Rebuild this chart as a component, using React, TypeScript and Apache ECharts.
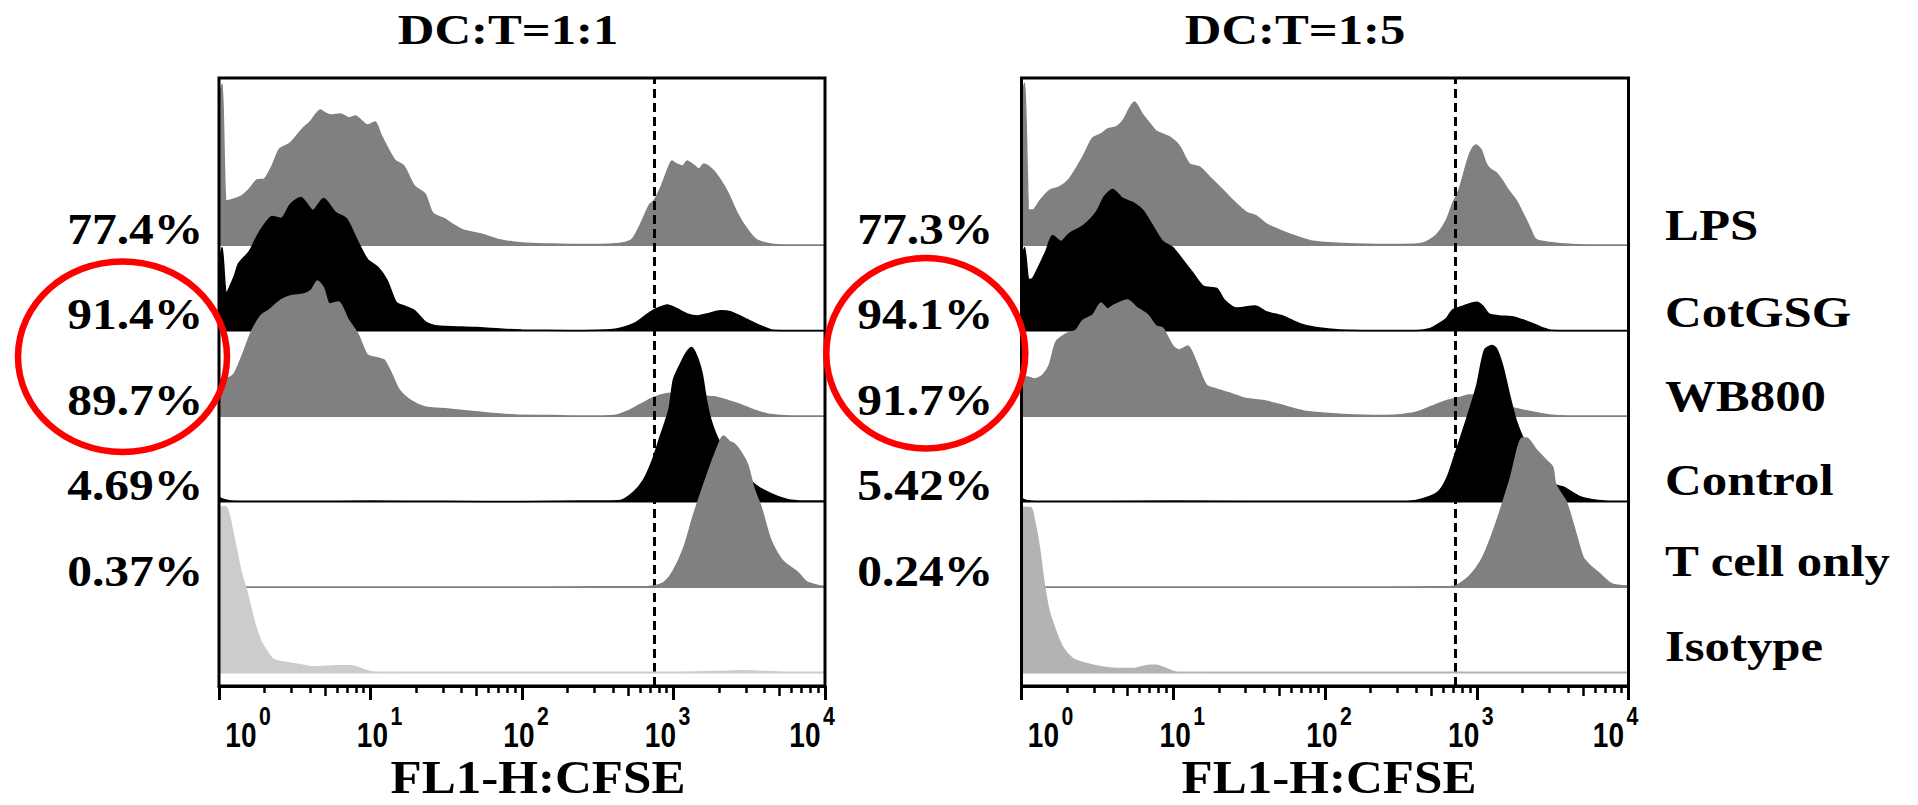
import React, { useEffect, useRef } from 'react';
import * as echarts from 'echarts';

type Pt = [number, number]; // [log10(FL1-H), histogram height]

const SAMPLES = ['LPS', 'CotGSG', 'WB800', 'Control', 'T cell only', 'Isotype'];
const PANEL_TITLES = ['DC:T=1:1', 'DC:T=1:5'];
const PCT_11 = ['77.4%', '91.4%', '89.7%', '4.69%', '0.37%'];
const PCT_15 = ['77.3%', '94.1%', '91.7%', '5.42%', '0.24%'];
const GATES = [743, 717];
const MAJOR_TICKS = [1, 10, 100, 1000, 10000];
const TICK_EXPONENTS = ['0', '1', '2', '3', '4'];
const HALF_TICKS = [5, 50, 500, 5000];
const MINOR_TICKS = [2, 3, 4, 6, 7, 8, 9, 20, 30, 40, 60, 70, 80, 90, 200, 300, 400, 600, 700, 800, 900,
  2000, 3000, 4000, 6000, 7000, 8000, 9000];
const X_NAME = 'FL1-H:CFSE';

// ---- DC:T=1:1 ----
const L_LPS: Pt[] = [[0, 150], [0.02, 162], [0.05, 45], [0.1, 47], [0.15, 50], [0.2, 57], [0.25, 66], [0.3, 67], [0.35, 80], [0.4, 97], [0.47, 103], [0.55, 117], [0.6, 124], [0.67, 136], [0.7, 133], [0.74, 131], [0.8, 132], [0.86, 128], [0.9, 130], [0.98, 121], [1.03, 124], [1.07, 111], [1.16, 86], [1.22, 80], [1.29, 60], [1.36, 52], [1.41, 33], [1.49, 27], [1.55, 21], [1.61, 16], [1.73, 12], [1.86, 6], [2.0, 3], [2.2, 2], [2.4, 1.5], [2.6, 2], [2.72, 6], [2.78, 21], [2.84, 41], [2.87, 45], [2.92, 60], [2.96, 76], [2.99, 85], [3.02, 82], [3.06, 80], [3.09, 85], [3.14, 80], [3.17, 77], [3.2, 82], [3.26, 76], [3.31, 66], [3.36, 53], [3.42, 33], [3.49, 16], [3.55, 6], [3.64, 2], [3.75, 1], [4.0, 1]];
const L_COT: Pt[] = [[0, 70], [0.02, 84], [0.05, 39], [0.1, 55], [0.13, 68], [0.2, 80], [0.25, 95], [0.3, 107], [0.35, 115], [0.41, 113], [0.47, 127], [0.54, 134], [0.62, 121], [0.69, 133], [0.77, 119], [0.84, 113], [0.91, 92], [0.98, 72], [1.05, 64], [1.11, 51], [1.17, 29], [1.23, 25], [1.29, 21], [1.36, 10], [1.42, 6], [1.5, 5], [1.6, 4.5], [1.7, 4], [1.8, 3], [1.9, 2], [2.0, 1.5], [2.3, 1], [2.6, 2], [2.74, 8], [2.83, 17.6], [2.89, 23], [2.96, 26.6], [3.02, 23], [3.09, 17.6], [3.16, 15.6], [3.22, 17.6], [3.31, 20.7], [3.38, 19.5], [3.49, 11.7], [3.57, 6], [3.66, 1.2], [3.8, 1], [4.0, 1]];
const L_WB: Pt[] = [[0, 35], [0.03, 39], [0.055, 39], [0.1, 43], [0.165, 66], [0.21, 84], [0.275, 101], [0.33, 107], [0.41, 117], [0.47, 121], [0.56, 123], [0.61, 127], [0.65, 136], [0.69, 129], [0.73, 113], [0.79, 115], [0.85, 98], [0.92, 82], [0.98, 62], [1.05, 59], [1.09, 57], [1.14, 43], [1.19, 27], [1.27, 16], [1.36, 10], [1.51, 8], [1.73, 4.7], [1.95, 2], [2.2, 1.5], [2.4, 1], [2.61, 1.5], [2.7, 6], [2.78, 12.5], [2.87, 19.5], [2.96, 23.4], [3.05, 24], [3.15, 22], [3.25, 20.3], [3.29, 19.5], [3.36, 16.4], [3.44, 12.5], [3.53, 7], [3.62, 3], [3.71, 1.5], [3.85, 1], [4.0, 1]];
const L_CTRL: Pt[] = [[0, 5], [0.03, 3], [0.08, 1.5], [0.5, 1.2], [1.0, 1.5], [1.5, 1.2], [2.0, 1], [2.4, 1.5], [2.55, 1.5], [2.65, 2], [2.74, 11], [2.8, 22], [2.86, 42], [2.91, 65], [2.97, 93], [3.0, 123], [3.05, 140], [3.09, 151], [3.12, 155], [3.16, 144], [3.19, 128], [3.22, 100], [3.25, 81], [3.3, 62], [3.4, 42], [3.53, 19], [3.64, 9], [3.75, 3], [3.86, 1.5], [4.0, 1.5]];
const L_TCELL: Pt[] = [[0, 1], [1.0, 1], [2.0, 1], [2.5, 1.2], [2.8, 1.2], [2.87, 2], [2.94, 6], [3.0, 17.6], [3.07, 41], [3.13, 72], [3.2, 103.5], [3.26, 129], [3.31, 148], [3.33, 152], [3.37, 146.5], [3.4, 144.5], [3.44, 137], [3.49, 123], [3.53, 100], [3.58, 80], [3.64, 49], [3.71, 29], [3.75, 23.4], [3.82, 15.6], [3.88, 6], [3.97, 2], [4.0, 1.5]];
const L_ISO: Pt[] = [[0, 167], [0.05, 166], [0.1, 135], [0.143, 103.5], [0.187, 80], [0.231, 53], [0.275, 33], [0.32, 21.5], [0.363, 13.7], [0.496, 9.8], [0.628, 6.6], [0.78, 7.8], [0.87, 7.8], [0.936, 5], [1.02, 1.5], [1.5, 1.2], [2.0, 1.2], [2.5, 1.2], [3.0, 1.2], [3.3, 2], [3.45, 2.7], [3.6, 2], [3.8, 1.2], [4.0, 1.2]];

// ---- DC:T=1:5 ----
const R_LPS: Pt[] = [[0, 150], [0.02, 163], [0.05, 36], [0.074, 36], [0.12, 45], [0.183, 55.5], [0.25, 59], [0.315, 67], [0.403, 88.7], [0.469, 108], [0.524, 112], [0.568, 117], [0.623, 119], [0.667, 125], [0.744, 144], [0.8, 131], [0.843, 123], [0.887, 115], [0.975, 109], [1.04, 100], [1.107, 82], [1.173, 79], [1.24, 69], [1.33, 55.5], [1.393, 45.7], [1.48, 34], [1.547, 30], [1.613, 22], [1.723, 14.5], [1.833, 8.6], [1.92, 4.7], [2.0, 3.5], [2.2, 2], [2.5, 1.5], [2.64, 2.7], [2.73, 10.5], [2.8, 26], [2.84, 42], [2.885, 57], [2.93, 81], [2.96, 94.5], [2.995, 101], [3.03, 96], [3.06, 83], [3.09, 77], [3.13, 73], [3.17, 65], [3.21, 55.5], [3.26, 45.7], [3.3, 34], [3.35, 18.4], [3.39, 6.6], [3.48, 3.5], [3.63, 1.5], [3.8, 1], [4.0, 1]];
const R_COT: Pt[] = [[0, 70], [0.02, 84], [0.05, 52], [0.074, 53], [0.16, 80], [0.205, 96], [0.26, 90], [0.315, 98], [0.403, 105.5], [0.458, 113], [0.5, 121], [0.546, 135], [0.6, 142], [0.667, 133], [0.733, 129], [0.8, 121], [0.865, 105.5], [0.931, 90], [0.997, 84], [1.06, 72], [1.129, 58.6], [1.2, 45], [1.286, 43], [1.34, 31], [1.42, 23.4], [1.54, 25.4], [1.616, 19.5], [1.72, 15.6], [1.833, 7.8], [1.94, 3.9], [2.1, 1.5], [2.5, 1], [2.6, 1], [2.69, 2.7], [2.75, 7.8], [2.8, 12.9], [2.84, 21.5], [2.91, 25.4], [2.97, 28.5], [3.0, 29.3], [3.04, 25.4], [3.08, 17.6], [3.15, 15.6], [3.24, 14.5], [3.3, 11.7], [3.37, 7.8], [3.43, 3.9], [3.5, 1.2], [3.6, 1], [4.0, 1]];
const R_WB: Pt[] = [[0, 40], [0.04, 40], [0.084, 38], [0.14, 42], [0.183, 52], [0.227, 75], [0.293, 83], [0.36, 87], [0.403, 96.5], [0.47, 102], [0.524, 114], [0.568, 108], [0.61, 112], [0.7, 117], [0.755, 110], [0.832, 102], [0.887, 91], [0.93, 89], [0.997, 71], [1.04, 67], [1.096, 71], [1.15, 55.5], [1.217, 32], [1.283, 28], [1.37, 24], [1.48, 18.4], [1.59, 16.4], [1.7, 12.5], [1.79, 8.6], [1.877, 5.5], [1.99, 3.9], [2.1, 2.7], [2.2, 2], [2.4, 1.5], [2.5, 2.3], [2.6, 4.7], [2.7, 10.5], [2.8, 16.4], [2.9, 20], [2.95, 22], [3.05, 21], [3.15, 15], [3.24, 9.4], [3.35, 5.5], [3.48, 2], [3.6, 1], [4.0, 1]];
const R_CTRL: Pt[] = [[0, 4], [0.03, 2], [0.1, 1.2], [1.0, 1.5], [2.0, 1.2], [2.5, 1.2], [2.6, 2], [2.74, 9.8], [2.8, 23.4], [2.85, 45], [2.93, 82], [3.0, 117], [3.05, 152], [3.1, 157], [3.13, 154], [3.17, 137], [3.22, 105], [3.26, 82], [3.32, 60], [3.42, 38], [3.52, 17.6], [3.57, 15.6], [3.68, 5.9], [3.8, 2], [3.9, 1.2], [4.0, 1.2]];
const R_TCELL: Pt[] = [[0, 1], [1.0, 1], [2.0, 1], [2.8, 1.2], [2.86, 2], [2.95, 11.7], [3.04, 31], [3.13, 66], [3.22, 109], [3.3, 150], [3.33, 150], [3.39, 138.7], [3.45, 129], [3.5, 121], [3.52, 103.5], [3.59, 86], [3.66, 51], [3.7, 31], [3.74, 23.4], [3.8, 15.6], [3.89, 4], [4.0, 2]];
const R_ISO: Pt[] = [[0, 166], [0.06, 166], [0.084, 154], [0.117, 127], [0.15, 89], [0.183, 62], [0.227, 42], [0.27, 26.6], [0.337, 14.8], [0.403, 11], [0.513, 7], [0.623, 5], [0.733, 5], [0.843, 8.2], [0.887, 8.2], [0.953, 5], [1.02, 1.5], [1.5, 1.2], [2.5, 1.2], [3.5, 1.2], [4.0, 1.2]];

const PANEL_DATA: Pt[][][] = [
  [L_LPS, L_COT, L_WB, L_CTRL, L_TCELL, L_ISO],
  [R_LPS, R_COT, R_WB, R_CTRL, R_TCELL, R_ISO],
];

// ---- layout / style ----
const GRIDS = [
  { left: 219, top: 78, width: 606, height: 608 },
  { left: 1021.5, top: 78, width: 607, height: 608 },
];
const Y_MAX = 608;
const ROW_STEP = 85.5;
const BASE0 = 12.5;
const FILLS = [
  ['#808080', '#000000', '#808080', '#000000', '#808080', '#cccccc'],
  ['#808080', '#000000', '#808080', '#000000', '#808080', '#b3b3b3'],
];
const SERIF = "'Liberation Serif','Times New Roman',serif";
const SANS = "'Liberation Sans',Arial,sans-serif";
const LABEL_SHIFT = [31, 11, 6, -4, -11];
const TICK_BASE_Y = 735;
const TICK_SUP_Y = 716;
const PCT_RIGHT = [203.3, 993.3];
const TITLE_X = [508, 1295];
const NAME_X = [538, 1329];
const SAMPLE_X = 1665;
const SAMPLE_Y = [225, 312, 396, 480, 561, 646];
const ELLIPSES = [
  { cx: 122.5, cy: 356.7, rx: 104.5, ry: 95.3 },
  { cx: 925.8, cy: 353.3, rx: 99.5, ry: 95.3 },
];

const rowOffset = (i: number) => BASE0 + (5 - i) * ROW_STEP;
const rowBasePx = (i: number) => GRIDS[0].top + GRIDS[0].height - rowOffset(i);

function text(t: string, x: number, y: number, size: number, align: string, sx: number, family = SERIF) {
  return {
    type: 'text', x, y, scaleX: sx, z: 50, silent: true,
    style: { text: t, fill: '#000', fontSize: size, fontWeight: 'bold', fontFamily: family, align, verticalAlign: 'middle' },
  };
}

function buildOption() {
  const xAxis: any[] = [];
  const yAxis: any[] = [];
  const series: any[] = [];
  GRIDS.forEach((_, p) => {
    const base = { type: 'log', logBase: 10, gridIndex: p, min: 1, max: 10000, position: 'bottom', splitLine: { show: false } };
    xAxis.push({
      ...base,
      axisLine: { show: true, onZero: false, lineStyle: { color: '#000', width: 3 } },
      axisTick: { show: true, length: 14, lineStyle: { color: '#000', width: 3 }, customValues: MAJOR_TICKS },
      axisLabel: { show: false },
    });
    xAxis.push({
      ...base,
      axisLine: { show: false },
      axisTick: { show: true, length: 10, lineStyle: { color: '#000', width: 2.5 }, customValues: HALF_TICKS },
      axisLabel: { show: false },
    });
    xAxis.push({
      ...base,
      axisLine: { show: false },
      axisTick: { show: true, length: 7, lineStyle: { color: '#000', width: 2.5 }, customValues: MINOR_TICKS },
      axisLabel: { show: false },
    });
    yAxis.push({ type: 'value', gridIndex: p, min: 0, max: Y_MAX, show: false });

    PANEL_DATA[p].forEach((pts, i) => {
      const off = rowOffset(i);
      const color = FILLS[p][i];
      const s: any = {
        type: 'line', name: `${PANEL_TITLES[p]} ${SAMPLES[i]}`,
        xAxisIndex: p * 3, yAxisIndex: p,
        data: pts.map(([l, h]) => [Math.pow(10, l), off + h]),
        showSymbol: false, symbol: 'none', smooth: 0.25, silent: true, z: 2 + i,
        lineStyle: { color, width: 1.5 },
        areaStyle: { color, opacity: 1, origin: off },
      };
      if (i === 5) {
        s.markLine = {
          silent: true, symbol: 'none', label: { show: false },
          lineStyle: { type: [9, 5], width: 3, color: '#000' },
          data: [{ xAxis: GATES[p] }],
        };
      }
      series.push(s);
    });
  });

  const graphic: any[] = [];
  PANEL_TITLES.forEach((t, p) => {
    graphic.push(text(t, TITLE_X[p], 29, 43, 'center', 1.18));
    graphic.push(text(X_NAME, NAME_X[p], 778, 46, 'center', 1.11));
    const pcts = p === 0 ? PCT_11 : PCT_15;
    pcts.forEach((v, i) => graphic.push(text(v, PCT_RIGHT[p], rowBasePx(i) - 17.5, 45, 'right', 1.1)));
    const e = ELLIPSES[p];
    graphic.push({
      type: 'ellipse', z: 60, silent: true, shape: e,
      style: { fill: 'none', stroke: '#ff0000', lineWidth: 6.5 },
    });
  });
  SAMPLES.forEach((s, i) => graphic.push(text(s, SAMPLE_X, SAMPLE_Y[i], 45, 'left', 1.13)));

  return {
    animation: false,
    backgroundColor: '#ffffff',
    grid: GRIDS.map((g) => ({ ...g, show: true, borderColor: '#000', borderWidth: 3, backgroundColor: 'transparent', z: 10 })),
    xAxis, yAxis, series, graphic,
  };
}

// Tick labels "10^n" placed at the pixel of each decade as computed by the axis itself.
function tickLabelGraphics(chart: echarts.ECharts) {
  const out: any[] = [];
  GRIDS.forEach((_, p) => {
    MAJOR_TICKS.forEach((v, e) => {
      const px = chart.convertToPixel({ xAxisIndex: p * 3 } as any, v) as unknown as number;
      const c = px + LABEL_SHIFT[e];
      out.push(text('10', c + 6.5, TICK_BASE_Y, 35, 'right', 0.8, SANS));
      out.push(text(TICK_EXPONENTS[e], c + 9, TICK_SUP_Y, 25, 'left', 0.85, SANS));
    });
  });
  return out;
}

export default function App() {
  const ref = useRef<HTMLDivElement>(null);
  useEffect(() => {
    const chart = echarts.init(ref.current!, null, { renderer: 'svg', width: 1918, height: 805 });
    const option: any = buildOption();
    chart.setOption(option);
    chart.setOption({ graphic: [...option.graphic, ...tickLabelGraphics(chart)] });
    return () => chart.dispose();
  }, []);
  return <div ref={ref} style={{ position: 'fixed', left: 0, top: 0, width: 1918, height: 805, background: '#fff' }} />;
}
